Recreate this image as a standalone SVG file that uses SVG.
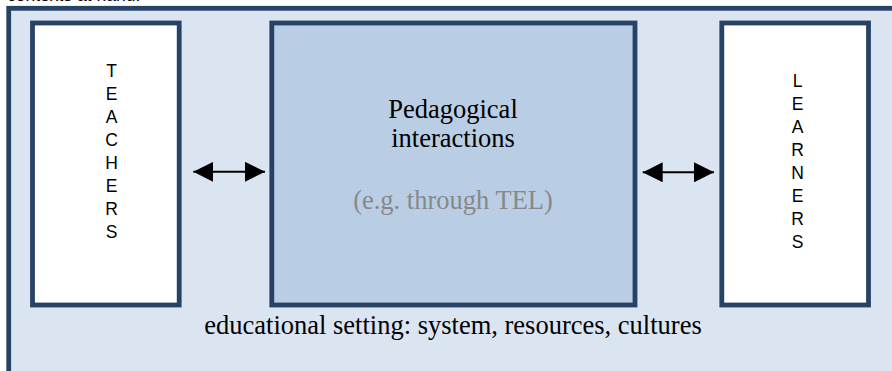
<svg xmlns="http://www.w3.org/2000/svg" width="892" height="371" viewBox="0 0 892 371">
  <style>
    .frame { stroke: #264264; stroke-width: 4.8; }
    .side { fill: #ffffff; }
    .core { fill: #b9cde5; }
    .caps { font-family: "Liberation Sans", Arial, sans-serif; font-size: 17.5px; fill: #000000; text-anchor: middle; }
    .serif { font-family: "Liberation Serif", "Times New Roman", serif; font-size: 26.5px; text-anchor: middle; }
    .link { stroke: #000000; stroke-width: 2; fill: none; }
  </style>
  <defs>
    <marker id="head" markerUnits="userSpaceOnUse" markerWidth="20" markerHeight="20" viewBox="0 0 20 20" refX="20" refY="10" orient="auto-start-reverse">
      <path d="M0,0 L20,10 L0,20 Z" fill="#000000"/>
    </marker>
  </defs>

  <rect width="892" height="371" fill="#ffffff"/>
  <text x="7" y="1" font-family="Liberation Sans, Arial, sans-serif" font-size="17.5" fill="#000000">contexts at hand.</text>

  <!-- educational setting -->
  <g id="setting">
    <rect class="frame" x="8.7" y="8.3" width="900" height="400" fill="#dbe5f1"/>
    <text class="serif" x="453" y="334" fill="#000000">educational setting: system, resources, cultures</text>
  </g>

  <!-- teachers -->
  <g id="teachers">
    <rect class="frame side" x="32.5" y="23" width="146.7" height="282"/>
    <text class="caps" x="111.5" y="77"><tspan x="111.5" dy="0">T</tspan><tspan x="111.5" dy="23">E</tspan><tspan x="111.5" dy="23">A</tspan><tspan x="111.5" dy="23">C</tspan><tspan x="111.5" dy="23">H</tspan><tspan x="111.5" dy="23">E</tspan><tspan x="111.5" dy="23">R</tspan><tspan x="111.5" dy="23">S</tspan></text>
  </g>

  <!-- pedagogical interactions -->
  <g id="interactions">
    <rect class="frame core" x="271.8" y="23" width="363.2" height="282"/>
    <text class="serif" x="453" y="118" fill="#000000">Pedagogical</text>
    <text class="serif" x="453" y="147" fill="#000000">interactions</text>
    <text class="serif" x="453" y="209" fill="#888888">(e.g. through TEL)</text>
  </g>

  <!-- learners -->
  <g id="learners">
    <rect class="frame side" x="721.8" y="23" width="146.7" height="282"/>
    <text class="caps" x="797.5" y="87"><tspan x="797.5" dy="0">L</tspan><tspan x="797.5" dy="23">E</tspan><tspan x="797.5" dy="23">A</tspan><tspan x="797.5" dy="23">R</tspan><tspan x="797.5" dy="23">N</tspan><tspan x="797.5" dy="23">E</tspan><tspan x="797.5" dy="23">R</tspan><tspan x="797.5" dy="23">S</tspan></text>
  </g>

  <!-- two-way connectors -->
  <g id="connectors">
    <line class="link" x1="193.3" y1="171.8" x2="265" y2="171.8" marker-start="url(#head)" marker-end="url(#head)"/>
    <line class="link" x1="642.7" y1="172.3" x2="714" y2="172.3" marker-start="url(#head)" marker-end="url(#head)"/>
  </g>
</svg>
